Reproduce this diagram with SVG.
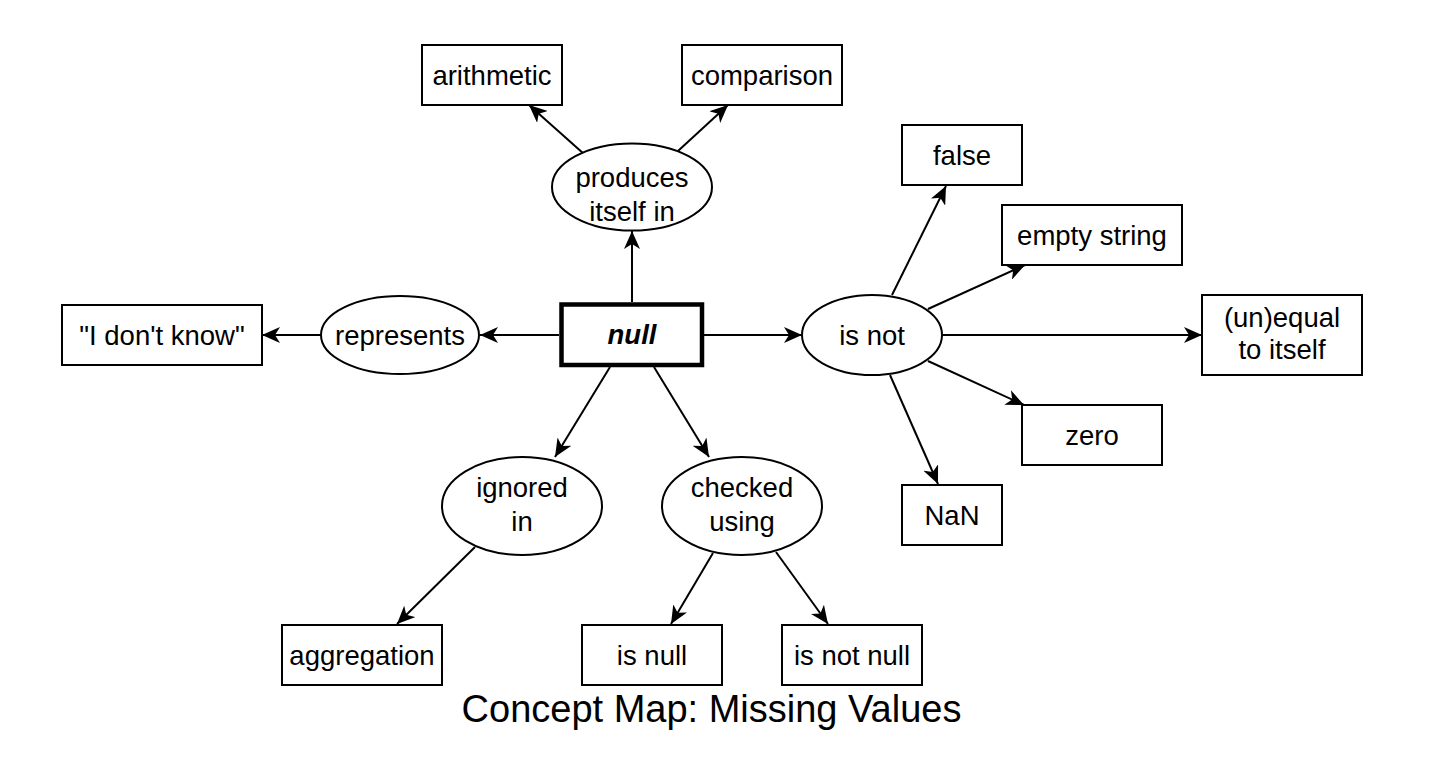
<svg xmlns="http://www.w3.org/2000/svg" width="1442" height="780" viewBox="0 0 1442 780">
<defs>
<style>
.box{fill:#fff;stroke:#000;stroke-width:2}
.ell{fill:#fff;stroke:#000;stroke-width:2}
.t{font-family:"Liberation Sans",Arial,Helvetica,sans-serif;font-size:27.5px;fill:#000;text-anchor:middle}
.c{fill:none;stroke:#000;stroke-width:2;marker-end:url(#arr)}
.title{font-family:"Liberation Sans",Arial,Helvetica,sans-serif;font-size:38px;fill:#000;text-anchor:middle}
</style>
<marker id="arr" markerUnits="userSpaceOnUse" markerWidth="18" markerHeight="16" refX="18" refY="8" orient="auto" viewBox="0 0 18 16"><path d="M0,0 L18,8 L0,16 L5,8 Z" fill="#000"/></marker>
</defs>
<rect width="1442" height="780" fill="#fff"/>
<g id="connectors">
<line class="c" x1="632" y1="302" x2="632" y2="231"/>
<line class="c" x1="584" y1="154" x2="529" y2="105"/>
<line class="c" x1="678" y1="151" x2="728" y2="105"/>
<line class="c" x1="559" y1="335" x2="480" y2="335"/>
<line class="c" x1="321" y1="335" x2="262" y2="335"/>
<line class="c" x1="704" y1="335" x2="802" y2="335"/>
<line class="c" x1="892" y1="295" x2="946" y2="186"/>
<line class="c" x1="928" y1="309" x2="1025" y2="265"/>
<line class="c" x1="942" y1="335" x2="1202" y2="335"/>
<line class="c" x1="928" y1="361" x2="1024" y2="405"/>
<line class="c" x1="890" y1="375" x2="938" y2="484"/>
<line class="c" x1="610" y1="367" x2="555" y2="457"/>
<line class="c" x1="654" y1="367" x2="709" y2="457"/>
<line class="c" x1="475" y1="547" x2="397" y2="624"/>
<line class="c" x1="713" y1="553" x2="671" y2="624"/>
<line class="c" x1="776" y1="552" x2="828" y2="624"/>
</g>
<g id="null"><rect x="561.5" y="304.5" width="140.5" height="60.5" fill="#fff" stroke="#000" stroke-width="4.5"/><text class="t" x="632" y="344" font-weight="bold" font-style="italic">null</text></g>
<g id="produces"><ellipse class="ell" cx="632" cy="187" rx="80" ry="43.5"/><text class="t" x="632" y="187">produces</text><text class="t" x="632" y="221">itself in</text></g>
<g id="arithmetic"><rect class="box" x="422" y="45" width="140" height="60"/><text class="t" x="492" y="84.7">arithmetic</text></g>
<g id="comparison"><rect class="box" x="682" y="45" width="160" height="60"/><text class="t" x="762" y="84.7">comparison</text></g>
<g id="represents"><ellipse class="ell" cx="400" cy="335" rx="79" ry="39"/><text class="t" x="400" y="344.7">represents</text></g>
<g id="idontknow"><rect class="box" x="62" y="305" width="200" height="60"/><text class="t" x="162" y="344.7">"I don't know"</text></g>
<g id="isnot"><ellipse class="ell" cx="872" cy="335" rx="70" ry="40"/><text class="t" x="872" y="344.7">is not</text></g>
<g id="false"><rect class="box" x="902" y="125" width="120" height="60"/><text class="t" x="962" y="164.7">false</text></g>
<g id="emptystring"><rect class="box" x="1002" y="205" width="180" height="60"/><text class="t" x="1092" y="244.7">empty string</text></g>
<g id="unequal"><rect class="box" x="1202" y="295" width="160" height="80"/><text class="t" x="1282" y="327">(un)equal</text><text class="t" x="1282" y="359">to itself</text></g>
<g id="zero"><rect class="box" x="1022" y="405" width="140" height="60"/><text class="t" x="1092" y="444.7">zero</text></g>
<g id="nan"><rect class="box" x="902" y="485" width="100" height="60"/><text class="t" x="952" y="524.7">NaN</text></g>
<g id="ignored"><ellipse class="ell" cx="522" cy="506" rx="80" ry="49"/><text class="t" x="522" y="497">ignored</text><text class="t" x="522" y="531">in</text></g>
<g id="checked"><ellipse class="ell" cx="742" cy="506" rx="80" ry="49"/><text class="t" x="742" y="497">checked</text><text class="t" x="742" y="531">using</text></g>
<g id="aggregation"><rect class="box" x="282" y="625" width="160" height="60"/><text class="t" x="362" y="664.7">aggregation</text></g>
<g id="isnull"><rect class="box" x="582" y="625" width="140" height="60"/><text class="t" x="652" y="664.7">is null</text></g>
<g id="isnotnull"><rect class="box" x="782" y="625" width="140" height="60"/><text class="t" x="852" y="664.7">is not null</text></g>
<text class="title" x="711.5" y="722">Concept Map: Missing Values</text>
</svg>
